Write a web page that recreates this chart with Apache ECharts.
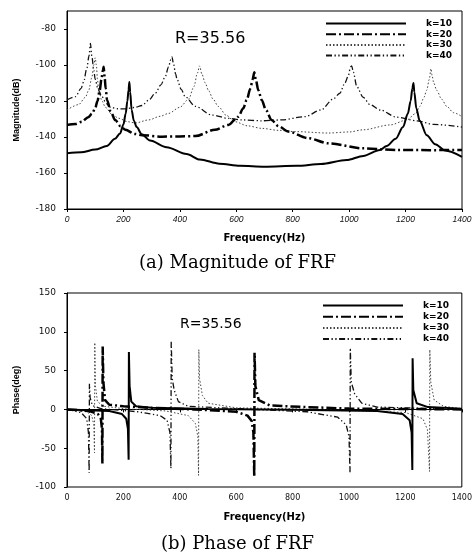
<!DOCTYPE html>
<html><head><meta charset="utf-8">
<script src="https://cdn.jsdelivr.net/npm/echarts@6/dist/echarts.min.js"></script>
<style>html,body{margin:0;padding:0;background:#fff}#c{width:475px;height:555px}</style>
</head><body><div id="c"></div>
<script>
// ---------- data ----------
const seriesNames = ['k=10', 'k=20', 'k=30', 'k=40'];
const freqTicks = [0, 200, 400, 600, 800, 1000, 1200, 1400];
const magTicks = [-180, -160, -140, -120, -100, -80];
const phaseTicks = [-100, -50, 0, 50, 100, 150];

// Magnitude (dB) vs frequency (Hz)
const magK10 = [[0,-149],[50,-148.5],[100,-147],[141,-145],[170,-141],[188,-138],[200,-133],[208,-127],[214,-120],[218,-114],[221,-109.5],[224,-115],[229,-125],[237,-131],[247,-134.5],[265,-138.5],[294,-142],[353,-145.7],[424,-149.5],[471,-152.5],[540,-154.8],[613,-156],[700,-156.5],[814,-156],[900,-155],[991,-152.8],[1050,-150.5],[1109,-147.2],[1133,-145],[1165,-141],[1191,-134.5],[1208,-127],[1218,-120],[1224,-113],[1228,-110],[1231,-115],[1238,-124],[1250,-131],[1275,-139],[1305,-144],[1340,-147.5],[1400,-151]];
const magK20 = [[0,-133.3],[30,-132.8],[53,-131.5],[75,-129],[89,-127],[100,-124],[108,-120],[116,-114],[122,-108],[127,-103],[130,-101],[133,-106],[137,-113],[142,-119.4],[155,-126],[171,-130.6],[190,-134],[207,-136],[240,-138.3],[266,-139],[337,-139.8],[400,-139.7],[455,-139.5],[524,-136],[572,-133.3],[607,-128.7],[625,-124],[637,-119.4],[650,-113],[658,-108],[664,-104],[669,-108],[678,-114],[690,-119.4],[705,-125],[725,-130.6],[750,-134],[784,-137],[855,-140.7],[926,-143.5],[1050,-146.3],[1168,-147.2],[1287,-147.3],[1400,-147.2]];
const magK30 = [[0,-125],[41,-122],[65,-118],[77,-114],[88,-107],[95,-100],[100,-96],[104,-100],[108,-108],[112,-114],[124,-120],[136,-123.5],[160,-127.5],[183,-129.6],[215,-131.5],[242,-132.2],[290,-130.5],[330,-128.5],[360,-126.9],[400,-123.5],[431,-119],[450,-112],[462,-104.5],[470,-100.5],[478,-105],[490,-110],[501,-114],[518,-119],[536,-123],[565,-128],[595,-131.5],[640,-133.8],[690,-135.2],[750,-136.3],[808,-137],[926,-137.8],[1000,-137.2],[1050,-136],[1145,-133.3],[1204,-130.6],[1235,-127],[1251,-123],[1265,-118],[1275,-114],[1284,-108],[1290,-102],[1294,-106],[1300,-110],[1310,-114],[1328,-119],[1346,-123],[1370,-126.5],[1400,-128.7]];
const magK40 = [[0,-119.4],[30,-117.6],[50,-113],[59,-109.3],[70,-102],[78,-95],[83,-88],[88,-95],[95,-103],[100,-108],[110,-113.5],[124,-117.6],[140,-121.5],[154,-123.5],[180,-124.3],[207,-124.4],[240,-123.6],[266,-122.5],[290,-119.5],[313,-115.7],[333,-111],[348,-106.5],[360,-101],[368,-97],[372,-95.5],[377,-99],[385,-105],[390,-108],[405,-113.5],[419,-117.6],[455,-123],[513,-127.8],[572,-129.6],[620,-130.5],[690,-131],[761,-130.5],[843,-128.7],[900,-125],[943,-119],[967,-115.7],[985,-110],[997,-106],[1005,-101],[1009,-100.5],[1015,-104],[1027,-112],[1050,-118],[1074,-122],[1110,-125],[1168,-129],[1239,-131],[1300,-133],[1400,-134.5]];

// Phase (deg) vs frequency (Hz)
const phaseK10 = [[0,0],[150,-2],[195,-6],[210,-12],[216,-25],[218.5,-65],[219.5,74],[222,30],[228,10],[245,4],[300,2],[500,0.5],[800,-0.5],[1100,-2],[1190,-6],[1215,-14],[1222,-30],[1224.5,-78],[1225.5,66],[1228,25],[1240,8],[1280,3],[1400,1]];
const phaseK20 = [[0,0],[80,-2],[110,-6],[120,-12],[124,-25],[125.5,-70],[126.5,81],[129,35],[135,12],[150,6],[200,4],[300,2],[450,0],[600,-3],[640,-8],[655,-15],[661,-30],[664,-87],[665,73],[668,30],[680,12],[720,5],[850,3],[1000,1],[1400,0]];
const phaseK30 = [[0,0],[70,-3],[88,-8],[95,-20],[97.5,-56],[98.5,86],[101,30],[108,10],[130,4],[200,1],[350,-2],[430,-8],[455,-18],[464,-35],[466.5,-85],[467.5,77],[470,40],[480,18],[500,8],[600,2],[900,0],[1200,-4],[1262,-12],[1278,-26],[1285.5,-80],[1286.5,77],[1290,35],[1302,12],[1335,4],[1400,1]];
const phaseK40 = [[0,0],[50,-4],[70,-12],[76,-30],[78.5,-82],[79.5,33],[82,15],[90,5],[120,1],[250,-3],[330,-8],[355,-14],[365,-30],[368.5,-76],[369.5,88],[373,40],[380,25],[395,10],[430,4],[600,1],[850,-3],[960,-10],[990,-20],[1000,-35],[1003.5,-82],[1004.5,79],[1008,35],[1020,20],[1045,8],[1100,3],[1400,0]];

const magData = [magK10, magK20, magK30, magK40];
const phaseData = [phaseK10, phaseK20, phaseK30, phaseK40];

// ---------- styles ----------
const styles = [
  {color:'#000', width:2, type:'solid'},
  {color:'#000', width:2.5, type:[10,3,2,3]},
  {color:'#444', width:1, type:[1.5,2]},
  {color:'#111', width:1.3, type:[6,2.5,1.3,2.5,1.3,2.5]}
];

const chart = echarts.init(document.getElementById('c'), null, {renderer:'canvas'});

const yLabelStyle = {fontFamily:'DejaVu Sans', fontSize:9, color:'#111', margin:11};
const axisLineStyle = {lineStyle:{color:'#000', width:1}};
const tickStyle = {show:true, length:3, lineStyle:{color:'#000'}};

const series = [];
seriesNames.forEach((n, i) => {
  series.push({
    name:n, type:'line', xAxisIndex:0, yAxisIndex:0, data:magData[i],
    symbol:'none', smooth:0.3, smoothMonotone:'x', clip:true,
    lineStyle:{color:styles[i].color, width:styles[i].width, type:styles[i].type},
    itemStyle:{color:styles[i].color}, z: 10 - i
  });
});
seriesNames.forEach((n, i) => {
  series.push({
    name:n, type:'line', xAxisIndex:1, yAxisIndex:1, data:phaseData[i],
    symbol:'none', smooth:false, clip:true,
    lineStyle:{color:styles[i].color, width:styles[i].width, type:styles[i].type},
    itemStyle:{color:styles[i].color}, z: 10 - i
  });
});

const legendText = {fontFamily:'DejaVu Sans', fontWeight:'bold', fontSize:9, color:'#000', lineHeight:8, padding:[0,0,0,15]};
const legendItem = {opacity:0};

chart.setOption({
  animation:false,
  backgroundColor:'#fff',
  grid:[
    {left:67, top:11, width:395, height:198, show:true, borderColor:'#000', borderWidth:1, backgroundColor:'transparent'},
    {left:67, top:293, width:395, height:194, show:true, borderColor:'#000', borderWidth:1, backgroundColor:'transparent'}
  ],
  legend:[
    {orient:'vertical', left:320, top:14, itemWidth:80, itemHeight:8, itemGap:1.7, selectedMode:false,
     itemStyle:legendItem, data:seriesNames, textStyle:legendText},
    {orient:'vertical', left:317, top:296, itemWidth:80, itemHeight:8, itemGap:2.2, selectedMode:false,
     itemStyle:legendItem, data:seriesNames, textStyle:legendText}
  ],
  xAxis:[
    {gridIndex:0, type:'value', min:freqTicks[0], max:freqTicks[freqTicks.length-1], interval:200,
     name:'Frequency(Hz)', nameLocation:'middle', nameGap:24,
     nameTextStyle:{fontFamily:'DejaVu Sans', fontWeight:'bold', fontSize:10, color:'#000'},
     axisLine:axisLineStyle, axisTick:tickStyle, splitLine:{show:false},
     axisLabel:{fontFamily:'Liberation Sans', fontStyle:'italic', fontSize:8.5, color:'#111', margin:6, formatter:v => String(v)}},
    {gridIndex:1, type:'value', min:freqTicks[0], max:freqTicks[freqTicks.length-1], interval:200,
     name:'Frequency(Hz)', nameLocation:'middle', nameGap:25,
     nameTextStyle:{fontFamily:'DejaVu Sans', fontWeight:'bold', fontSize:10, color:'#000'},
     axisLine:axisLineStyle, axisTick:tickStyle, splitLine:{show:false},
     axisLabel:{fontFamily:'DejaVu Sans', fontSize:8, color:'#111', margin:7, formatter:v => String(v)}}
  ],
  yAxis:[
    {gridIndex:0, type:'value', min:magTicks[0], max:-70, interval:20,
     name:'Magnitude(dB)', nameLocation:'middle', nameGap:46, nameRotate:90,
     nameTextStyle:{fontFamily:'Liberation Sans', fontWeight:'bold', fontSize:9, color:'#000'},
     axisLine:axisLineStyle, axisTick:tickStyle, splitLine:{show:false},
     axisLabel:Object.assign({showMaxLabel:false, formatter:v => magTicks.includes(v) ? String(v) : ''}, yLabelStyle)},
    {gridIndex:1, type:'value', min:phaseTicks[0], max:phaseTicks[phaseTicks.length-1], interval:50,
     name:'Phase(deg)', nameLocation:'middle', nameGap:46, nameRotate:90,
     nameTextStyle:{fontFamily:'Liberation Sans', fontWeight:'bold', fontSize:9, color:'#000'},
     axisLine:axisLineStyle, axisTick:tickStyle, splitLine:{show:false},
     axisLabel:yLabelStyle}
  ],
  graphic:[
    {type:'text', left:175, top:31, style:{text:'R=35.56', font:'16px "DejaVu Sans"', fill:'#000'}},
    {type:'text', left:180, top:317, style:{text:'R=35.56', font:'14px "DejaVu Sans"', fill:'#000'}},
    {type:'text', left:'center', top:254, style:{text:'(a) Magnitude of FRF', font:'18px "DejaVu Serif"', fill:'#000'}},
    {type:'text', left:'center', top:535, style:{text:'(b) Phase of FRF', font:'18px "DejaVu Serif"', fill:'#000'}}
  ],
  series:series
});
</script>
</body></html>
